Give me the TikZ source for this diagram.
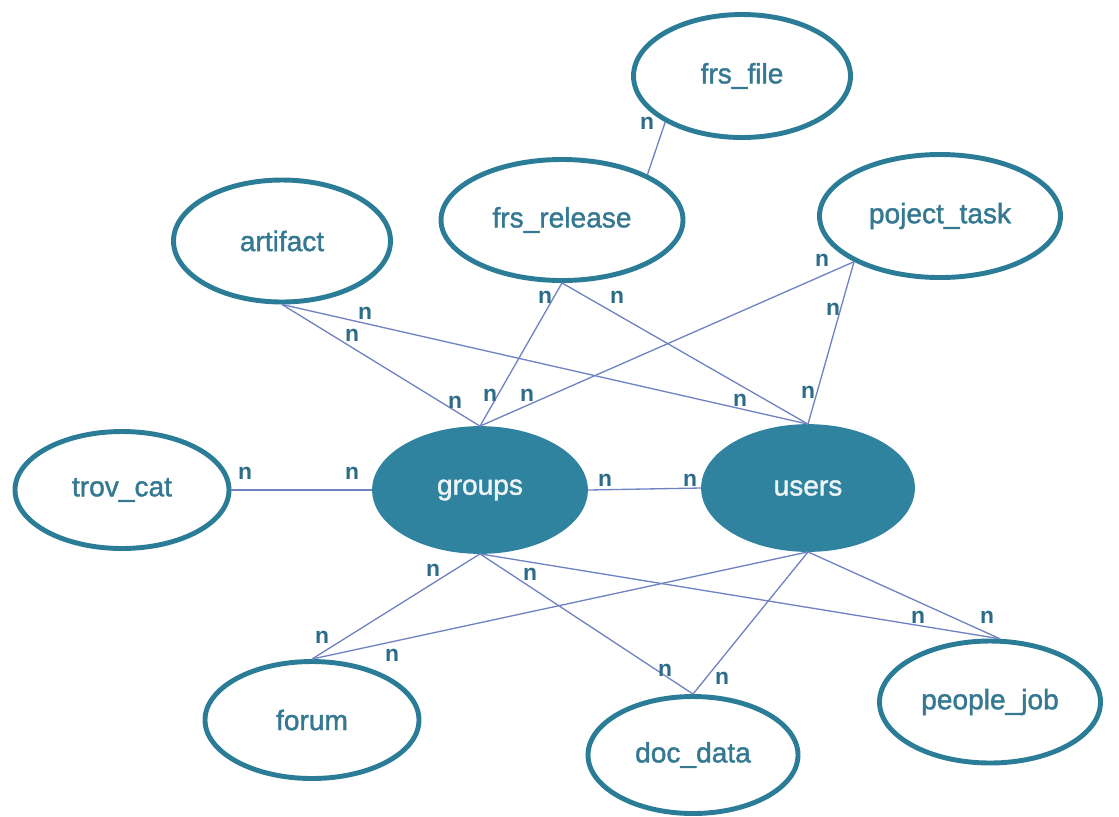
\documentclass[tikz,border=0pt]{standalone}
\usepackage{fontspec}
\setmainfont{Liberation Sans}
\newfontfamily\entfont[FakeBold=1.4]{Liberation Sans}
\usetikzlibrary{shapes.geometric}
\definecolor{teal}{HTML}{2B7C96}
\definecolor{tealfill}{HTML}{2F839F}
\definecolor{entext}{HTML}{357891}
\definecolor{edgeblue}{HTML}{6F82C2}
\definecolor{cardcol}{HTML}{2C6C88}
\begin{document}
\begin{tikzpicture}[x=0.02cm,y=-0.02cm,
  sz/.style 2 args={minimum width=#1*0.02cm,minimum height=#2*0.02cm},
  entity/.style={ellipse,draw=teal,line width=2.8pt,fill=white,inner sep=0pt,
    text=entext,font=\entfont\fontsize{16}{18}\selectfont},
  core/.style={ellipse,draw=tealfill,line width=1pt,fill=tealfill,inner sep=0pt,
    text=white!92!teal,font=\entfont\fontsize{16}{18}\selectfont},
  rel/.style={draw=edgeblue,line width=0.75pt},
  card/.style={text=cardcol,font=\fontsize{13}{15}\selectfont\bfseries,inner sep=0pt}]
\useasboundingbox (0,0) rectangle (1119,816);

% centres of the entities
\path (742,76)  coordinate (cff)  (562,220) coordinate (cfr)
      (282,241) coordinate (cart) (940,216) coordinate (cpt)
      (122,490) coordinate (ctc)  (480,490) coordinate (cg)
      (808,488) coordinate (cu)   (312,720) coordinate (cfo)
      (693,755) coordinate (cdd)  (990,702) coordinate (cpj);

% entities
\node[entity,sz={217}{123}] (ff)  at (cff)  {frs\_file};
\node[entity,sz={242}{121}] (fr)  at (cfr)  {frs\_release};
\node[entity,sz={217}{122}] (art) at (cart) {artifact};
\node[entity,sz={241}{123}] (pt)  at (cpt)  {poject\_task};
\node[entity,sz={214}{117}] (tc)  at (ctc)  {trov\_cat};
\node[core,sz={214}{126}]   (g)   at (cg)   {groups};
\node[core,sz={212}{126}]   (u)   at (cu)   {users};
\node[entity,sz={214}{117}] (fo)  at (cfo)  {forum};
\node[entity,sz={210}{117}] (dd)  at (cdd)  {doc\_data};
\node[entity,sz={221}{122}] (pj)  at (cpj)  {people\_job};

% relationships
\draw[rel] (ff.211) -- (fr.28);
\draw[rel] (art.south) -- (g.north);
\draw[rel] (art.south) -- (u.north);
\draw[rel] (fr.south) -- (g.north);
\draw[rel] (fr.south) -- (u.north);
\draw[rel] (pt.208) -- (g.north);
\draw[rel] (pt.208) -- (u.north);
\draw[rel] (tc.east) -- (g.west);
\draw[rel] (g.east) -- (u.west);
\draw[rel] (g.south) -- (fo.north);
\draw[rel] (g.south) -- (dd.north);
\draw[rel] (g.south) -- (pj.81);
\draw[rel] (u.south) -- (fo.north);
\draw[rel] (u.south) -- (dd.north);
\draw[rel] (u.south) -- (pj.81);

% cardinalities
\node[card] (n1)  at (647,123) {n};
\node[card] (n2)  at (545,297) {n};
\node[card] (n3)  at (617,297) {n};
\node[card] (n4)  at (822,260) {n};
\node[card] (n5)  at (833,309) {n};
\node[card] (n6)  at (365,313) {n};
\node[card] (n7)  at (352,335) {n};
\node[card] (n8)  at (455,402) {n};
\node[card] (n9)  at (490,395) {n};
\node[card] (n10) at (527,395) {n};
\node[card] (n11) at (740,400) {n};
\node[card] (n12) at (808,392) {n};
\node[card] (n13) at (245,473) {n};
\node[card] (n14) at (352,473) {n};
\node[card] (n15) at (605,480) {n};
\node[card] (n16) at (690,480) {n};
\node[card] (n17) at (433,570) {n};
\node[card] (n18) at (530,574) {n};
\node[card] (n19) at (322,637) {n};
\node[card] (n20) at (392,655) {n};
\node[card] (n21) at (665,670) {n};
\node[card] (n22) at (722,678) {n};
\node[card] (n23) at (918,617) {n};
\node[card] (n24) at (987,617) {n};
\end{tikzpicture}
\end{document}
